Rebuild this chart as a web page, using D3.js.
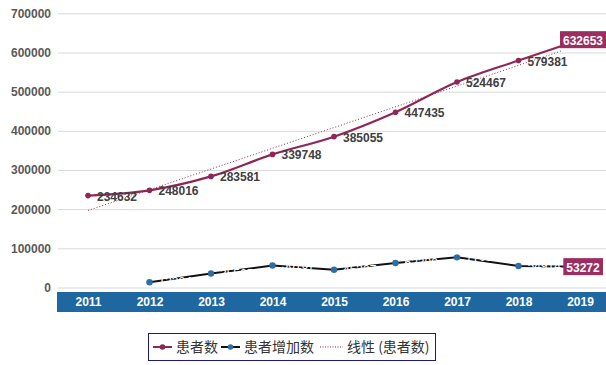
<!DOCTYPE html>
<html><head><meta charset="utf-8">
<script src="https://cdn.jsdelivr.net/npm/d3@7"></script>
<style>body{margin:0;background:#fff;}svg{display:block;font-family:"Liberation Sans",Arial,sans-serif;}</style>
</head><body>
<svg id="c" width="606" height="365"></svg>
<script>
const years = ["2011","2012","2013","2014","2015","2016","2017","2018","2019"];
const patients = [234632,248016,283581,339748,385055,447435,524467,579381,632653];
const increase = [null,13384,35565,56167,45307,62380,77032,54914,53272];
const yTicks = [0,100000,200000,300000,400000,500000,600000,700000];
const legendLabels = ["患者数","患者增加数","线性 (患者数)"];

const svg = d3.select("#c");
const x = d3.scalePoint().domain(years).range([88,580]);
const y = d3.scaleLinear().domain([0,700000]).range([287.5,13.3]);
const magenta = "#8e2757", boxCol = "#9b2d5f", blue = "#1f67a0", ptBlue = "#2d6fa5";

// gridlines + y labels
const yAxis = d3.axisLeft(y).tickValues(yTicks).tickSize(-548).tickFormat(d3.format("d"));
const ga = svg.append("g").attr("transform","translate(58,0)").call(yAxis);
ga.select(".domain").remove();
ga.selectAll(".tick line").attr("stroke","#d9d9d9").attr("stroke-width",1);
ga.selectAll(".tick text").attr("x",-7).attr("fill","#595959").attr("font-size",12).attr("font-weight","bold");

// x band
svg.append("rect").attr("x",57).attr("y",292).attr("width",549).attr("height",20).attr("fill",blue);
const xAxis = d3.axisBottom(x).tickSize(0);
const gx = svg.append("g").attr("transform","translate(0,296)").call(xAxis);
gx.select(".domain").remove();
gx.selectAll(".tick text").attr("fill","#fff").attr("font-size",12).attr("font-weight","bold").attr("dy","0.55em");

// trendline (least squares on patients)
const n = patients.length, idx = d3.range(1,n+1);
const mx = d3.mean(idx), my = d3.mean(patients);
const slope = d3.sum(idx.map((v,i)=>(v-mx)*(patients[i]-my))) / d3.sum(idx.map(v=>(v-mx)*(v-mx)));
const icpt = my - slope*mx;
const trend = [1,n-0.3].map(t=>({t, v: icpt+slope*t}));
const step = x.step();
svg.append("path").attr("fill","none").attr("stroke",magenta).attr("stroke-width",1).attr("stroke-dasharray","1,2")
  .attr("d", d3.line().x(d=>x(years[0])+(d.t-1)*step).y(d=>y(d.v))(trend));

// increase line
const incData = years.map((yr,i)=>({yr,v:increase[i]})).filter(d=>d.v!=null);
svg.append("path").attr("fill","none").attr("stroke","#111").attr("stroke-width",2)
  .attr("d", d3.line().x(d=>x(d.yr)).y(d=>y(d.v))(incData));
// white (hidden) data labels on increase series
svg.append("g").selectAll("text").data(incData.slice(0,-1)).join("text")
  .attr("x",d=>x(d.yr)+9).attr("y",d=>y(d.v)+4).attr("fill","#fff").attr("font-size",12).text(d=>d.v);
svg.append("g").selectAll("circle").data(incData).join("circle")
  .attr("cx",d=>x(d.yr)).attr("cy",d=>y(d.v)).attr("r",3.2).attr("fill",ptBlue);

// patients line
const patData = years.map((yr,i)=>({yr,v:patients[i]}));
svg.append("path").attr("fill","none").attr("stroke",magenta).attr("stroke-width",2.2)
  .attr("d", d3.line().x(d=>x(d.yr)).y(d=>y(d.v)).curve(d3.curveMonotoneX)(patData));
svg.append("g").selectAll("circle").data(patData).join("circle")
  .attr("cx",d=>x(d.yr)).attr("cy",d=>y(d.v)).attr("r",2.8).attr("fill",magenta);
svg.append("g").selectAll("text").data(patData.slice(0,-1)).join("text")
  .attr("x",d=>x(d.yr)+9).attr("y",d=>y(d.v)+5).attr("fill","#404040").attr("font-size",12).attr("font-weight","bold").text(d=>d.v);

// boxed end labels
function boxLabel(d){
  const g = svg.append("g");
  const t = g.append("text").attr("x",x(d.yr)+3).attr("y",y(d.v)+5).attr("text-anchor","middle")
    .attr("fill","#fff").attr("font-size",12).attr("font-weight","bold").text(d.v);
  const bb = t.node().getBBox();
  g.insert("rect","text").attr("x",bb.x-3).attr("y",y(d.v)-8.5).attr("width",bb.width+6).attr("height",17).attr("fill",boxCol);
}
boxLabel(patData[patData.length-1]);
boxLabel(incData[incData.length-1]);

// legend
const lg = svg.append("g");
lg.append("rect").attr("x",148.5).attr("y",333.5).attr("width",287).attr("height",27).attr("fill","#fff").attr("stroke","#1a1a80").attr("stroke-width",1);
const ly = 347;
const items = [
  {x:153, w:19, label:legendLabels[0], col:magenta, dot:magenta, dash:null},
  {x:221, w:19, label:legendLabels[1], col:"#111", dot:ptBlue, dash:null},
  {x:320, w:23, label:legendLabels[2], col:magenta, dot:null, dash:"1,1.5"}
];
items.forEach(it=>{
  lg.append("line").attr("x1",it.x).attr("x2",it.x+it.w).attr("y1",ly).attr("y2",ly)
    .attr("stroke",it.col).attr("stroke-width",it.dash?1:2).attr("stroke-dasharray",it.dash);
  if(it.dot) lg.append("circle").attr("cx",it.x+it.w/2).attr("cy",ly).attr("r",2.8).attr("fill",it.dot);
  lg.append("text").attr("x",it.x+it.w+4).attr("y",ly+5).attr("font-size",14).attr("fill","#333")
    .attr("font-family","'Noto Sans CJK SC',sans-serif").text(it.label);
});
</script>
</body></html>
